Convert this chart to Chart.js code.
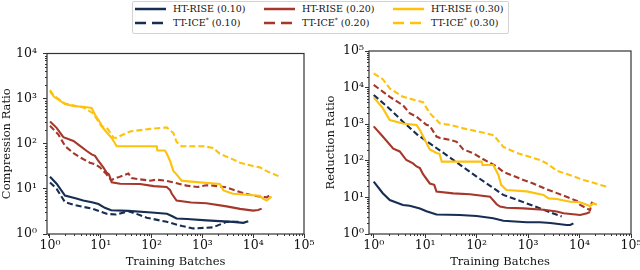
<!DOCTYPE html>
<html><head><meta charset="utf-8">
<script src="https://cdn.jsdelivr.net/npm/chart.js@4.4.0/dist/chart.umd.min.js"></script>
<style>
html,body{margin:0;padding:0;width:640px;height:270px;overflow:hidden;background:#fff;font-family:"DejaVu Serif",serif;}
#c1{position:absolute;left:0;top:40px;}
#c2{position:absolute;left:320px;top:40px;}
#legend{position:absolute;left:132px;top:1px;width:375px;height:31px;border:1px solid #d3d3d3;border-radius:2px;background:#fff;}
.item{position:absolute;height:14px;font-size:9.5px;color:#111;line-height:14px;white-space:nowrap;}
.item svg{position:absolute;left:0;top:0;}
.item span{position:absolute;left:38px;top:0;}
sup{font-size:6px;vertical-align:4px;line-height:0;}
</style></head>
<body>
<div id="legend"></div>
<canvas id="c1" width="320" height="230"></canvas>
<canvas id="c2" width="330" height="230"></canvas>
<script>
// ---- tick labels / axes ----
const xTicks = [1, 10, 100, 1000, 10000, 100000];
const crTicks = [1, 10, 100, 1000, 10000];
const rrTicks = [1, 10, 100, 1000, 10000, 100000];
const seriesNames = ['HT-RISE (0.10)', 'HT-RISE (0.20)', 'HT-RISE (0.30)', 'TT-ICE* (0.10)', 'TT-ICE* (0.20)', 'TT-ICE* (0.30)'];

// ---- Compression ratio (left) : [training batches, ratio] ----
const crHt10 = [[1,18.5],[1.35,13],[1.97,7.1],[3.3,6.1],[4.5,5.5],[7,5.0],[9,4.6],[12,3.8],[16,3.35],[35,3.25],[100,3.0],[200,2.8],[250,2.5],[310,2.2],[500,2.15],[1200,2.0],[4000,1.86],[6400,1.77],[8000,1.92]];
const crHt20 = [[1,310],[1.35,225],[1.83,140],[2.9,115],[3.9,90],[5.3,69],[6.6,58],[7.7,54],[8.9,42],[11.2,30],[13,23],[14.5,21],[16.4,14],[24,13],[59,12.8],[110,11.5],[198,11],[230,9.5],[250,7.8],[310,5.5],[600,5.0],[1200,4.8],[3000,4.1],[5500,3.6],[10000,3.3],[12500,3.4],[14700,3.65]];
const crHt30 = [[1,1450],[1.2,1100],[1.97,760],[3,680],[4.5,660],[6.6,620],[7.7,440],[9.6,300],[11.2,220],[13,180],[16.4,134],[20.6,88],[126,88],[130,71],[182,71],[200,60],[230,42],[268,25],[310,21],[390,15.2],[600,14.5],[2200,12.8],[2600,9.2],[4000,7.8],[10000,7.2],[13600,7.0],[15600,6.1],[18500,5.5],[23000,6.8]];
const crTt10 = [[1,13.9],[1.35,10],[1.97,5.1],[3,4.4],[4.5,4.0],[7,3.6],[13,2.8],[20,2.7],[35,3.2],[50,2.8],[80,2.3],[198,1.86],[400,1.5],[660,1.33],[1600,1.4],[3000,1.86],[5500,1.86]];
const crTt20 = [[1,250],[1.46,160],[2,88],[2.9,62],[3.9,50],[6.1,38],[7.7,35],[9.6,30],[13,21],[16,15.4],[17.7,16.5],[22,18],[35,22],[40,17.3],[93,15.2],[125,16],[200,15],[268,13.9],[490,11.8],[800,11],[1200,12],[1630,11.8],[3000,10.8],[5500,8.5],[10000,7.1],[15600,6.6],[18500,6.5],[21000,7.2]];
const crTt30 = [[1,1550],[1.2,1150],[1.97,780],[3,700],[4.5,640],[7.1,470],[10.4,240],[13,230],[17.7,138],[20,135],[37.6,187],[93,214],[198,230],[230,200],[268,173],[310,110],[390,88],[1050,88],[1630,81],[2200,60],[4000,45],[5500,38],[10000,32],[13600,30],[18000,25],[36000,18]];

// ---- Reduction ratio (right) ----
const rrHt10 = [[1,27],[1.5,13],[2.05,8.5],[3.7,6.2],[5,5.9],[7.9,5.0],[10.6,4.2],[16.6,3.4],[47,3.3],[100,3.1],[210,2.7],[330,2.3],[940,2.1],[1700,2.1],[2700,2.0],[5600,1.76],[6600,1.76],[7600,1.96]];
const rrHt20 = [[1,870],[1.5,460],[2.4,215],[3.2,180],[4.3,105],[5.8,85],[6.8,70],[7.9,63],[9.1,43],[12.3,24],[15,22],[16.6,14.4],[35,12.9],[74,12.2],[182,10.5],[245,6.5],[285,5.6],[380,5.2],[810,5.0],[2000,4.6],[3600,4.1],[4900,3.7],[10300,3.3],[14000,3.7],[16000,4.0]];
const rrHt30 = [[1,5400],[1.5,2750],[2.05,1300],[3.7,1050],[6.8,950],[7.9,690],[9.9,370],[12.3,205],[16.6,163],[19,155],[21,95],[125,95],[130,77],[210,77],[265,41],[300,22],[380,16],[940,14.6],[2000,11.7],[2500,9.4],[3600,9],[6600,7.6],[10300,7.4],[16000,5.8],[18700,6.9],[21700,6.3]];
const rrTt10 = [[1,6300],[2,2700],[3.7,1170],[7,520],[18,206],[50,74],[100,37],[180,21],[330,11.7],[700,8],[1500,5.4],[3000,3.7],[4500,3.0]];
const rrTt20 = [[1,11800],[1.5,7800],[2.05,5600],[3.7,3300],[5,2000],[6.8,1600],[10.6,960],[12.3,900],[16.6,460],[19.4,420],[30,375],[41,330],[55,205],[86,160],[135,110],[182,88],[245,70],[330,50],[810,30],[1260,24],[2300,16.6],[4500,11.7],[8900,8],[10300,6.2],[16000,4.5],[17500,7.6]];
const rrTt30 = [[1,24500],[1.5,17000],[2.05,9500],[3.7,5600],[5,5000],[9.1,4000],[12.3,2000],[19.4,1050],[30,960],[55,770],[156,560],[210,500],[245,400],[330,240],[600,165],[1700,105],[2300,85],[3600,54],[5000,46],[12000,30],[36000,19]];

const C_NAVY = '#172e52', C_RED = '#a5372b', C_GOLD = '#fcc20d';
const colors = [C_NAVY, C_RED, C_GOLD, C_NAVY, C_RED, C_GOLD];
const dashedFlags = [false, false, false, true, true, true];

Chart.defaults.font.family = '"DejaVu Serif", serif';
Chart.defaults.font.size = 11.5;
Chart.defaults.color = '#111';

const SUP = {0:'\u2070',1:'\u00b9',2:'\u00b2',3:'\u00b3',4:'\u2074',5:'\u2075'};
const fmt = v => '10' + SUP[Math.round(Math.log10(v))];
const tickFont = {size: 12.5};

function ds(arr, i) {
  return {
    label: seriesNames[i],
    data: arr.map(p => ({x: p[0], y: p[1]})),
    borderColor: colors[i],
    borderWidth: 2.1,
    borderDash: dashedFlags[i] ? [6, 3] : [],
    pointRadius: 0,
    fill: false,
    tension: 0
  };
}

const framePlugin = {
  id: 'frame',
  afterDraw(chart) {
    const {ctx, chartArea: a, scales: {x, y}} = chart;
    ctx.save();
    ctx.strokeStyle = '#333';
    ctx.lineWidth = 1;
    ctx.beginPath();
    for (let n = -1; n <= 5; n++) {
      for (let k = 2; k <= 9; k++) {
        const v = k * Math.pow(10, n);
        if (v >= x.min && v <= x.max) {
          const px = Math.round(x.getPixelForValue(v)) + 0.5;
          ctx.moveTo(px, a.bottom); ctx.lineTo(px, a.bottom + 2);
        }
        if (v >= y.min && v <= y.max) {
          const py = Math.round(y.getPixelForValue(v)) + 0.5;
          ctx.moveTo(a.left, py); ctx.lineTo(a.left - 2, py);
        }
      }
    }
    ctx.stroke();
    ctx.lineWidth = 1.2;
    ctx.strokeRect(a.left, a.top, a.right - a.left, a.bottom - a.top);
    ctx.restore();
  }
};

function make(id, sets, yTicks, yMax, xMin, yTitle, yWidth, yTitlePad, yTickPad, rightPad) {
  new Chart(document.getElementById(id), {
    type: 'line',
    data: {datasets: sets.map((s, i) => ds(s, i))},
    options: {
      responsive: false, animation: false, devicePixelRatio: 1,
      layout: {padding: {top: 11, right: rightPad, left: 0, bottom: 0}},
      plugins: {legend: {display: false}, tooltip: {enabled: false}},
      scales: {
        x: {
          type: 'logarithmic', min: xMin, max: 100000,
          afterBuildTicks: s => { s.ticks = xTicks.map(v => ({value: v})); },
          afterFit: s => { s.height = 36; },
          ticks: {callback: fmt, autoSkip: false, maxRotation: 0, padding: 0, color: '#111', font: tickFont},
          grid: {drawOnChartArea: false, tickLength: 4, color: '#333', tickColor: '#333'},
          border: {display: false},
          title: {display: true, text: 'Training Batches', padding: {top: 0, bottom: 1.5}, color: '#111'}
        },
        y: {
          type: 'logarithmic', min: 1, max: yMax,
          afterBuildTicks: s => { s.ticks = yTicks.map(v => ({value: v})); },
          afterFit: s => { s.width = yWidth; },
          ticks: {callback: fmt, autoSkip: false, padding: yTickPad, color: '#111', font: tickFont},
          grid: {drawOnChartArea: false, tickLength: 4, color: '#333', tickColor: '#333'},
          border: {display: false},
          title: {display: true, text: yTitle, padding: {top: yTitlePad, bottom: 0}, color: '#111'}
        }
      }
    },
    plugins: [framePlugin]
  });
}

make('c1', [crHt10, crHt20, crHt30, crTt10, crTt20, crTt30], crTicks, 10000, 0.873, 'Compression Ratio', 47, 0, 6, 16);
make('c2', [rrHt10, rrHt20, rrHt30, rrTt10, rrTt20, rrTt30], rrTicks, 100000, 0.81, 'Reduction Ratio', 49, 4.5, 1, 19);

// ---- HTML legend ----
const leg = document.getElementById('legend');
const colX = [2, 131, 260];
const rowY = [0, 14];
seriesNames.forEach((name, i) => {
  const d = document.createElement('div');
  d.className = 'item';
  d.style.left = colX[i % 3] + 'px';
  d.style.top = rowY[Math.floor(i / 3)] + 'px';
  const dash = dashedFlags[i] ? ' stroke-dasharray="11 6"' : '';
  const len = dashedFlags[i] ? 28 : 31;
  const label = name.replace('*', '<sup>*</sup>');
  d.innerHTML = '<svg width="34" height="14"><line x1="0" y1="7" x2="' + len + '" y2="7" stroke="' + colors[i] + '" stroke-width="2.5"' + dash + '/></svg><span>' + label + '</span>';
  leg.appendChild(d);
});
</script>
</body></html>
